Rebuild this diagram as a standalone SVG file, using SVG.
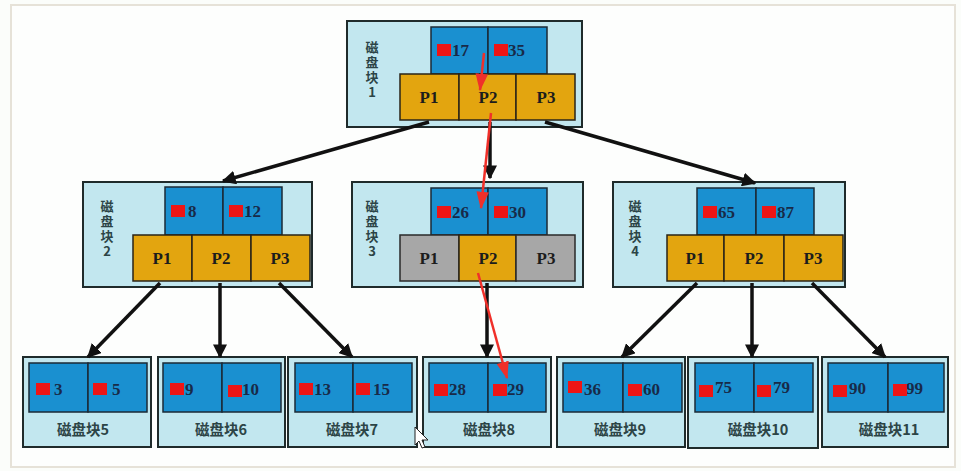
<svg xmlns="http://www.w3.org/2000/svg" width="961" height="471" viewBox="0 0 961 471">
<defs>
<style>
.blk{fill:#c2e7ef;stroke:#1f2b2b;stroke-width:2}
.key{fill:#1a90d0;stroke:#1b2a36;stroke-width:1.5}
.ptr{fill:#e3a50f;stroke:#2a2418;stroke-width:1.5}
.gry{fill:#a7a7a7;stroke:#2a2a2a;stroke-width:1.5}
.red{fill:#ee1515}
.p{font-family:"Liberation Serif",serif;font-weight:bold;font-size:17px;fill:#1c1c1c;text-anchor:middle}
.n{font-family:"Liberation Serif",serif;font-weight:bold;font-size:17px;fill:#182a48}
.lb{font-family:"Noto Sans CJK SC",sans-serif;font-weight:bold;font-size:14.5px;fill:#2c4446;text-anchor:middle}
.vl{font-family:"Noto Sans CJK SC",sans-serif;font-weight:bold;font-size:13px;fill:#2c4446;writing-mode:vertical-rl;text-orientation:upright;letter-spacing:2px}
.edge{stroke:#111;stroke-width:3.5;fill:none}
.redl{stroke:#f0302a;stroke-width:2.5;fill:none}
</style>
<marker id="ah" viewBox="0 0 10 10" refX="9" refY="5" markerWidth="4" markerHeight="4" orient="auto" markerUnits="strokeWidth"><path d="M0,0 L10,5 L0,10 z" fill="#111"/></marker>
<marker id="rh" viewBox="0 0 14 10" refX="13" refY="5" markerWidth="7" markerHeight="5" orient="auto" markerUnits="strokeWidth"><path d="M0,0 L14,5 L0,10 z" fill="#f0302a"/></marker>
</defs>
<rect x="0" y="0" width="961" height="471" fill="#fbfdfa"/>
<rect x="11" y="5" width="944" height="462" fill="#fdfefd" stroke="#e6e2d8" stroke-width="2"/>

<g id="block1">
<rect class="blk" x="347" y="21" width="235" height="106"/>
<rect class="key" x="431" y="27" width="57" height="47"/>
<rect class="key" x="488" y="27" width="59" height="47"/>
<rect class="red" x="437" y="44" width="14" height="12"/><text class="n" x="452" y="56">17</text>
<rect class="red" x="494" y="44" width="14" height="12"/><text class="n" x="508" y="56">35</text>
<rect class="ptr" x="400" y="74" width="59" height="46"/>
<rect class="ptr" x="459" y="74" width="57" height="46"/>
<rect class="ptr" x="516" y="74" width="59" height="46"/>
<text class="p" x="429" y="103">P1</text><text class="p" x="488" y="103">P2</text><text class="p" x="546" y="103">P3</text>
<text class="vl" x="372" y="41">磁盘块1</text>
</g>

<g id="block2">
<rect class="blk" x="83" y="182" width="229" height="105"/>
<rect class="key" x="165" y="187" width="58" height="48"/>
<rect class="key" x="223" y="187" width="59" height="48"/>
<rect class="red" x="171" y="205" width="14" height="12"/><text class="n" x="188" y="217">8</text>
<rect class="red" x="229" y="205" width="14" height="12"/><text class="n" x="244" y="217">12</text>
<rect class="ptr" x="133" y="235" width="59" height="46"/>
<rect class="ptr" x="192" y="235" width="59" height="46"/>
<rect class="ptr" x="251" y="235" width="59" height="46"/>
<text class="p" x="162" y="264">P1</text><text class="p" x="221" y="264">P2</text><text class="p" x="280" y="264">P3</text>
<text class="vl" x="107" y="200">磁盘块2</text>
</g>

<g id="block3">
<rect class="blk" x="352" y="182" width="231" height="105"/>
<rect class="key" x="431" y="188" width="57" height="47"/>
<rect class="key" x="488" y="188" width="59" height="47"/>
<rect class="red" x="437" y="206" width="14" height="12"/><text class="n" x="452" y="218">26</text>
<rect class="red" x="494" y="206" width="14" height="12"/><text class="n" x="509" y="218">30</text>
<rect class="gry" x="400" y="235" width="59" height="46"/>
<rect class="ptr" x="459" y="235" width="57" height="46"/>
<rect class="gry" x="516" y="235" width="59" height="46"/>
<text class="p" x="429" y="264">P1</text><text class="p" x="488" y="264">P2</text><text class="p" x="546" y="264">P3</text>
<text class="vl" x="372" y="200">磁盘块3</text>
</g>

<g id="block4">
<rect class="blk" x="613" y="182" width="232" height="105"/>
<rect class="key" x="697" y="188" width="59" height="47"/>
<rect class="key" x="756" y="188" width="58" height="47"/>
<rect class="red" x="703" y="206" width="14" height="12"/><text class="n" x="718" y="218">65</text>
<rect class="red" x="762" y="206" width="14" height="12"/><text class="n" x="777" y="218">87</text>
<rect class="ptr" x="667" y="235" width="57" height="46"/>
<rect class="ptr" x="724" y="235" width="60" height="46"/>
<rect class="ptr" x="784" y="235" width="59" height="46"/>
<text class="p" x="695" y="264">P1</text><text class="p" x="754" y="264">P2</text><text class="p" x="813" y="264">P3</text>
<text class="vl" x="635" y="200">磁盘块4</text>
</g>

<g id="block5">
<rect class="blk" x="23" y="357" width="128" height="90"/>
<rect class="key" x="29" y="363" width="59" height="49"/><rect class="key" x="88" y="363" width="59" height="49"/>
<rect class="red" x="36" y="383" width="14" height="12"/><text class="n" x="54" y="395">3</text>
<rect class="red" x="93" y="383" width="14" height="12"/><text class="n" x="112" y="395">5</text>
<text class="lb" x="83" y="435">磁盘块5</text>
</g>
<g id="block6">
<rect class="blk" x="158" y="357" width="127" height="90"/>
<rect class="key" x="163" y="363" width="59" height="49"/><rect class="key" x="222" y="363" width="59" height="49"/>
<rect class="red" x="170" y="383" width="14" height="12"/><text class="n" x="185" y="395">9</text>
<rect class="red" x="228" y="385" width="14" height="12"/><text class="n" x="242" y="395">10</text>
<text class="lb" x="221" y="435">磁盘块6</text>
</g>
<g id="block7">
<rect class="blk" x="288" y="357" width="129" height="90"/>
<rect class="key" x="295" y="363" width="58" height="49"/><rect class="key" x="353" y="363" width="59" height="49"/>
<rect class="red" x="299" y="383" width="14" height="12"/><text class="n" x="314" y="395">13</text>
<rect class="red" x="356" y="383" width="14" height="12"/><text class="n" x="373" y="395">15</text>
<text class="lb" x="352" y="435">磁盘块7</text>
</g>
<g id="block8">
<rect class="blk" x="423" y="357" width="128" height="90"/>
<rect class="key" x="429" y="363" width="59" height="49"/><rect class="key" x="488" y="363" width="58" height="49"/>
<rect class="red" x="434" y="384" width="14" height="12"/><text class="n" x="449" y="395">28</text>
<rect class="red" x="493" y="384" width="14" height="12"/><text class="n" x="507" y="395">29</text>
<text class="lb" x="489" y="435">磁盘块8</text>
</g>
<g id="block9">
<rect class="blk" x="557" y="357" width="128" height="90"/>
<rect class="key" x="563" y="363" width="60" height="49"/><rect class="key" x="623" y="363" width="59" height="49"/>
<rect class="red" x="568" y="381" width="14" height="12"/><text class="n" x="584" y="395">36</text>
<rect class="red" x="628" y="384" width="14" height="12"/><text class="n" x="643" y="395">60</text>
<text class="lb" x="620" y="435">磁盘块9</text>
</g>
<g id="block10">
<rect class="blk" x="688" y="357" width="130" height="91"/>
<rect class="key" x="695" y="363" width="59" height="49"/><rect class="key" x="754" y="363" width="59" height="49"/>
<rect class="red" x="699" y="385" width="14" height="12"/><text class="n" x="715" y="393">75</text>
<rect class="red" x="757" y="385" width="14" height="12"/><text class="n" x="773" y="393">79</text>
<text class="lb" x="758" y="435">磁盘块10</text>
</g>
<g id="block11">
<rect class="blk" x="822" y="357" width="126" height="90"/>
<rect class="key" x="828" y="363" width="60" height="49"/><rect class="key" x="888" y="363" width="56" height="49"/>
<rect class="red" x="833" y="385" width="14" height="12"/><text class="n" x="849" y="394">90</text>
<rect class="red" x="893" y="384" width="14" height="12"/><text class="n" x="906" y="394">99</text>
<text class="lb" x="889" y="435">磁盘块11</text>
</g>

<g id="connectors">
<line class="edge" x1="429" y1="122" x2="223" y2="181" marker-end="url(#ah)"/>
<line class="edge" x1="490" y1="122" x2="490" y2="178" marker-end="url(#ah)"/>
<line class="edge" x1="545" y1="122" x2="755" y2="183" marker-end="url(#ah)"/>
<line class="edge" x1="160" y1="283" x2="88" y2="357" marker-end="url(#ah)"/>
<line class="edge" x1="220" y1="283" x2="220" y2="357" marker-end="url(#ah)"/>
<line class="edge" x1="279" y1="283" x2="352" y2="357" marker-end="url(#ah)"/>
<line class="edge" x1="487" y1="283" x2="487" y2="357" marker-end="url(#ah)"/>
<line class="edge" x1="697" y1="283" x2="622" y2="357" marker-end="url(#ah)"/>
<line class="edge" x1="752" y1="283" x2="752" y2="357" marker-end="url(#ah)"/>
<line class="edge" x1="812" y1="283" x2="885" y2="357" marker-end="url(#ah)"/>
<line class="redl" x1="484" y1="53" x2="480" y2="90" marker-end="url(#rh)"/>
<line class="redl" x1="491" y1="113" x2="481" y2="208" marker-end="url(#rh)"/>
<line class="redl" x1="478" y1="273" x2="507" y2="378" marker-end="url(#rh)"/>
</g>
<path d="M415,427 L415,445 L419,441 L422,448 L425,447 L422,440 L428,440 Z" fill="#fff" stroke="#222" stroke-width="1"/>
</svg>
